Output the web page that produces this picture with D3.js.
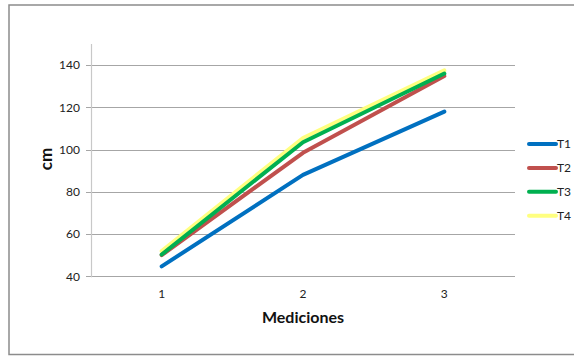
<!DOCTYPE html>
<html>
<head>
<meta charset="utf-8">
<script src="https://cdn.jsdelivr.net/npm/d3@7/dist/d3.min.js"></script>
<style>
  html, body { margin: 0; padding: 0; background: #fff; }
  svg { display: block; }
  text { font-family: Lato, "Open Sans", sans-serif; }
</style>
</head>
<body>
<svg id="chart" width="574" height="356"></svg>
<script>
// Plant height (cm) per measurement, for each treatment
const mediciones = ["1", "2", "3"];
const seriesNames = ["T1", "T2", "T3", "T4"];
const seriesColors = ["#0070c0", "#c0504d", "#00b050", "#ffff80"];
const t1 = [44.7, 88, 118];
const t2 = [50, 98.5, 134.8];
const t3 = [50.3, 103.5, 136];
const t4 = [52, 105.5, 137.5];
const yTicks = [40, 60, 80, 100, 120, 140];

const seriesValues = [t1, t2, t3, t4];

const svg = d3.select("#chart");

// outer chart frame
svg.append("rect")
  .attr("x", 9).attr("y", 5)
  .attr("width", 580).attr("height", 349.5)
  .attr("fill", "#fff")
  .attr("stroke", "#8c8c8c")
  .attr("stroke-width", 1.5);

const plot = { left: 91, right: 515, top: 44, bottom: 276.3 };

const x = d3.scaleBand()
  .domain(mediciones)
  .range([plot.left, plot.right]);

const y = d3.scaleLinear()
  .domain([40, 150])
  .range([plot.bottom, plot.top]);

// horizontal gridlines
svg.append("g")
  .selectAll("line")
  .data(yTicks)
  .join("line")
  .attr("x1", plot.left - 5)
  .attr("x2", plot.right)
  .attr("y1", d => Math.round(y(d)) + 0.5)
  .attr("y2", d => Math.round(y(d)) + 0.5)
  .attr("stroke", "#a6a6a6")
  .attr("stroke-width", 1);

// y axis line
svg.append("line")
  .attr("x1", plot.left + 0.5).attr("x2", plot.left + 0.5)
  .attr("y1", plot.top).attr("y2", plot.bottom + 1)
  .attr("stroke", "#c8c8c8")
  .attr("stroke-width", 1.2);

// y tick labels
svg.append("g")
  .selectAll("text")
  .data(yTicks)
  .join("text")
  .attr("x", 80)
  .attr("y", d => y(d))
  .attr("dy", "0.35em")
  .attr("text-anchor", "end")
  .attr("font-size", 12)
  .attr("fill", "#222")
  .text(d => d);

// x tick labels
svg.append("g")
  .selectAll("text")
  .data(mediciones)
  .join("text")
  .attr("x", d => x(d) + x.bandwidth() / 2)
  .attr("y", 294)
  .attr("dy", "0.35em")
  .attr("text-anchor", "middle")
  .attr("font-size", 12)
  .attr("fill", "#222")
  .text(d => d);

// axis titles
svg.append("text")
  .attr("x", (plot.left + plot.right) / 2)
  .attr("y", 317)
  .attr("dy", "0.35em")
  .attr("text-anchor", "middle")
  .attr("font-size", 16)
  .attr("font-weight", "bold")
  .attr("fill", "#111")
  .text("Mediciones");

svg.append("text")
  .attr("transform", "translate(46,159) rotate(-90)")
  .attr("dy", "0.35em")
  .attr("text-anchor", "middle")
  .attr("font-size", 17)
  .attr("font-weight", "bold")
  .attr("fill", "#111")
  .text("cm");

// series lines
const line = d3.line()
  .x((d, i) => x(mediciones[i]) + x.bandwidth() / 2)
  .y(d => y(d));

const order = [3, 0, 1, 2];
svg.append("g")
  .selectAll("path")
  .data(order)
  .join("path")
  .attr("d", k => line(seriesValues[k]))
  .attr("fill", "none")
  .attr("stroke", k => seriesColors[k])
  .attr("stroke-width", 4)
  .attr("stroke-linejoin", "round")
  .attr("stroke-linecap", "round");

// legend
const legend = svg.append("g")
  .selectAll("g")
  .data(seriesNames)
  .join("g")
  .attr("transform", (d, i) => `translate(529,${144 + i * 23.9})`);

legend.append("line")
  .attr("x1", 0).attr("x2", 27)
  .attr("stroke", (d, i) => seriesColors[i])
  .attr("stroke-width", 4)
  .attr("stroke-linecap", "round");

legend.append("text")
  .attr("x", 28)
  .attr("dy", "0.35em")
  .attr("font-size", 12)
  .attr("fill", "#222")
  .text(d => d);
</script>
</body>
</html>
